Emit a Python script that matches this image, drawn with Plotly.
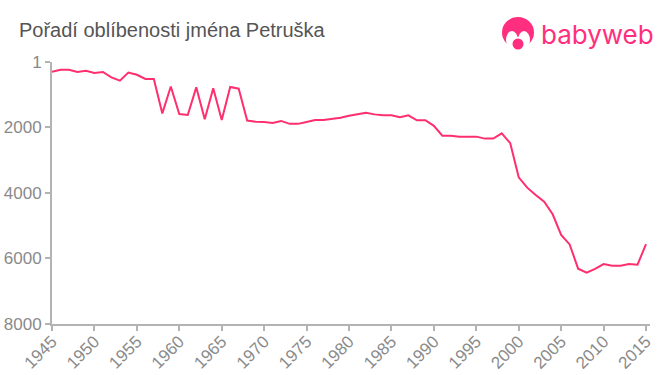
import plotly.graph_objects as go

years = list(range(1945, 2016))
ranks = [296, 235, 235, 305, 270, 336, 305, 470, 570, 325,
         390, 520, 520, 1570, 750, 1590, 1620, 775, 1750, 805,
         1770, 765, 815, 1790, 1825, 1830, 1860, 1800, 1890, 1890,
         1830, 1770, 1770, 1740, 1700, 1640, 1600, 1550, 1600, 1630,
         1630, 1690, 1630, 1780, 1780, 1950, 2250, 2250, 2280, 2280,
         2280, 2340, 2340, 2180, 2480, 3520, 3837, 4060, 4265, 4650,
         5280, 5570, 6310, 6430, 6320, 6170, 6220, 6220, 6170, 6190,
         5560]
x_ticks = list(range(1945, 2016, 5))
y_ticks = [1, 2000, 4000, 6000, 8000]
title = "Pořadí oblíbenosti jména Petruška"
brand = "babyweb"

PINK = "#ff2e6e"
L, R, T, B = 52, 10, 62, 51
W, H = 660, 375
px = lambda v: (v - L) / (W - L - R)
py = lambda v: (H - B - v) / (H - T - B)


def circle(cx, cy, rx, ry, fill):
    return dict(type="circle", xref="paper", yref="paper", layer="above",
                x0=px(cx - rx), x1=px(cx + rx), y0=py(cy + ry), y1=py(cy - ry),
                fillcolor=fill, line_width=0)


fig = go.Figure(go.Scatter(x=years, y=ranks, mode="lines",
                           line=dict(color=PINK, width=2), hoverinfo="skip"))
axis_common = dict(showgrid=False, zeroline=False, showline=True, linecolor="#b3b3b3",
                   linewidth=2, ticks="outside", tickcolor="#b3b3b3", tickwidth=2,
                   ticklen=5, automargin=False,
                   tickfont=dict(family="Liberation Sans", size=17, color="#8a8a8a"))
fig.update_xaxes(range=[1945, 2015.47], tickvals=x_ticks, ticktext=[str(t) for t in x_ticks],
                 tickangle=-45, ticklabelstandoff=-6, **axis_common)
fig.update_yaxes(range=[8000, 1], tickvals=y_ticks, ticktext=[str(t) for t in y_ticks],
                 **axis_common)
fig.update_layout(
    width=W, height=H, autosize=False, showlegend=False,
    margin=dict(l=L, r=R, t=T, b=B), paper_bgcolor="white", plot_bgcolor="white",
    title=dict(text=title, x=19 / W, xanchor="left", y=1 - 30 / H, yanchor="middle",
               font=dict(family="Liberation Sans", size=20, color="#555555")),
    shapes=[
        circle(518, 32.5, 16, 15.5, "#ff2e7e"),
        circle(512, 40, 6, 9, "white"),
        circle(524, 40, 6, 9, "white"),
        circle(518, 46, 11, 9, "white"),
        circle(518, 44, 5.5, 5.5, "#ff2e7e"),
    ],
    annotations=[dict(text=brand, xref="paper", yref="paper", x=px(539), y=py(34),
                      xanchor="left", yanchor="middle", showarrow=False,
                      font=dict(family="Inter", size=26, color="#ff2e7e"))],
)
fig.write_html("out.html", config=dict(displayModeBar=False),
               post_script="document.body.style.margin='0';")
